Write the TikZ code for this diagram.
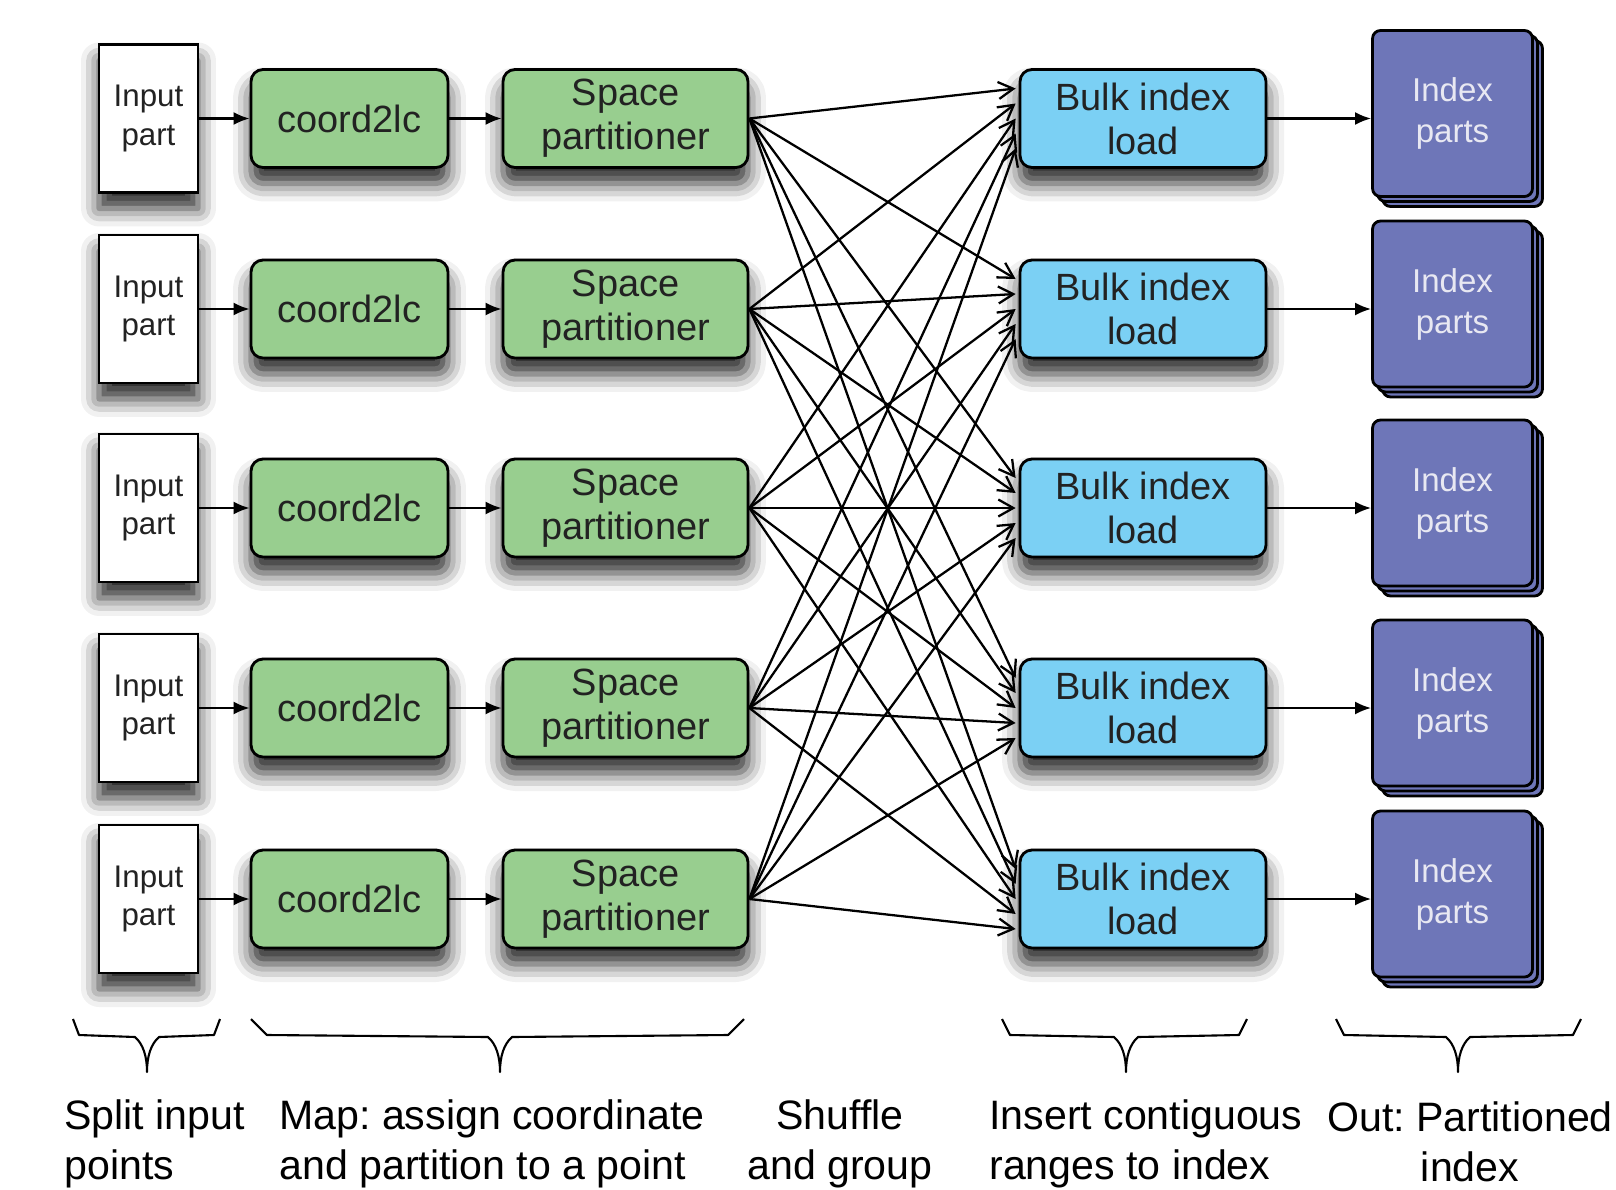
\documentclass[tikz,border=0pt]{standalone}
\usepackage{fontspec}
\setmainfont{Liberation Sans}
\usetikzlibrary{arrows.meta,shadows,shadows.blur,calc}

\definecolor{mapgreen}{HTML}{98CE8F}
\definecolor{loadblue}{HTML}{7BD0F4}
\definecolor{indexpurple}{HTML}{6E76B8}
\definecolor{indextext}{HTML}{E8E8F2}
\definecolor{boxtext}{HTML}{222222}

\tikzset{
  box/.style={draw=black, line width=1.6pt, rounded corners=0.24cm, minimum height=1.96cm,
    align=center, inner sep=0pt, text=boxtext,
    blur shadow={shadow xshift=0cm, shadow yshift=-0.32cm, shadow blur radius=0.36cm, shadow opacity=85}},
  inputbox/.style={box, rounded corners=0pt, fill=white, minimum width=1.98cm, minimum height=2.96cm,
    font=\fontsize{17.8}{21.8}\selectfont},
  lcbox/.style={box, fill=mapgreen, minimum width=3.94cm, font=\fontsize{21.6}{25}\selectfont},
  partbox/.style={box, fill=mapgreen, minimum width=4.9cm, font=\fontsize{21.6}{25}\selectfont},
  bulkbox/.style={box, fill=loadblue, minimum width=4.92cm, font=\fontsize{21.6}{25}\selectfont},
  indexbox/.style={draw=black, line width=1.6pt, rounded corners=0.16cm, fill=indexpurple,
    text=indextext, minimum width=3.2cm, minimum height=3.32cm, align=center, inner sep=0pt,
    font=\fontsize{18.8}{23.3}\selectfont,
    double copy shadow={shadow xshift=0.1cm, shadow yshift=-0.1cm, fill=indexpurple, draw=black, line width=1.6pt}},
  flow/.style={-{Latex[length=0.32cm, width=0.26cm]}, line width=1.3pt},
  shuffle/.style={-{Straight Barb[length=0.3cm, width=0.34cm]}, line width=1.3pt},
  stagebrace/.style={line width=1.2pt, line join=round},
  caption/.style={font=\fontsize{23.4}{28.2}\selectfont, inner sep=0pt}
}

\begin{document}
\frenchspacing
\begin{tikzpicture}[x=0.02cm, y=-0.02cm]

\useasboundingbox (0,0) rectangle (1616,1190);

\def \spread {15} % px between arrival points on a bulk box

\foreach \s/\y in {1/118.5, 2/309, 3/508, 4/708, 5/899}
{
  \node[inputbox] (in\s) at (148.5,\y) {Input\\part};
  \node[lcbox] (lc\s) at (349.5,\y) {coord2lc};
  \node[partbox] (sp\s) at (625.5,\y) {Space\\partitioner};
  \node[bulkbox] (bulk\s) at (1143,\y) {Bulk index\\load};
  \node[indexbox] (idx\s) at (1452.5,\y-5) {Index\\parts};
  \draw[flow] (in\s.east) -- (lc\s.west);
  \draw[flow] (lc\s.east) -- (sp\s.west);
  \draw[flow] (bulk\s.east) -- (bulk\s.east -| idx\s.west);
}

\foreach \s in {1,...,5}
  \foreach \t in {1,...,5}
    \draw[shuffle] (sp\s.east) -- ($(bulk\t.west)+(-3,{(\s-3)*\spread})$);

% braces under the stages
\foreach \a/\b/\m/\k in {73/220/147/6, 251/744/500/16, 1002/1247/1126/8, 1336/1581/1458/8}
{
  \draw[stagebrace] (\a,1019) -- ({\a+\k},1035) -- ({\m-12},1037)
    .. controls ({\m-4},1044) and (\m,1056) .. (\m,1072)
    .. controls (\m,1056) and ({\m+4},1044) .. ({\m+12},1037)
    -- ({\b-\k},1035) -- (\b,1019);
}

\node[caption, anchor=west, align=left] (capsplit) at (64,1144) {Split input\\points};
\node[caption, anchor=west, align=left] (capmap) at (279,1144) {Map: assign coordinate\\and partition to a point};
\node[caption, align=center] (capshuffle) at (840,1144) {Shuffle\\and group};
\node[caption, anchor=west, align=left] (capinsert) at (989,1144) {Insert contiguous\\ranges to index};
\node[caption, align=center] (capout) at (1470,1142) {Out: Partitioned\\index};

\end{tikzpicture}
\end{document}
